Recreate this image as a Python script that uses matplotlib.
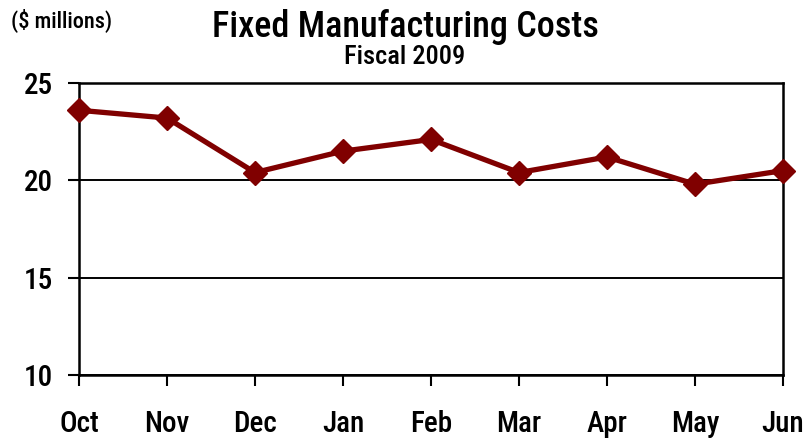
import matplotlib

matplotlib.use("Agg")
import matplotlib.pyplot as plt
from matplotlib import font_manager

months = ["Oct", "Nov", "Dec", "Jan", "Feb", "Mar", "Apr", "May", "Jun"]
costs = [23.6, 23.2, 20.4, 21.5, 22.1, 20.4, 21.2, 19.8, 20.5]
y_ticks = [10, 15, 20, 25]

# prefer a condensed face when one is available
names = {f.name for f in font_manager.fontManager.ttflist}
family = "Roboto"
for cand in ["Liberation Sans Narrow", "Roboto Condensed", "Open Sans Condensed"]:
    if cand in names:
        family = cand
        break
plt.rcParams["font.family"] = [family, "DejaVu Sans"]
weight = "medium"

fig = plt.figure(figsize=(8.1, 4.42), dpi=100)
ax = fig.add_axes([79 / 810, 1 - 375 / 442, (783 - 79) / 810, (375 - 83) / 442])

x = list(range(len(months)))
ax.plot(x, costs, color="#800000", linewidth=3.8, marker="D", markersize=12,
        clip_on=False, zorder=3)

ax.set_xlim(0, len(months) - 1)
ax.set_ylim(10, 25)
ax.set_xticks(x)
ax.set_xticklabels(months, fontsize=21, fontweight=weight)
ax.set_yticks(y_ticks)
ax.set_yticklabels([str(v) for v in y_ticks], fontsize=21, fontweight=weight)
ax.tick_params(axis="both", direction="out", length=8, width=1.5)
ax.tick_params(axis="x", pad=17)
ax.tick_params(axis="y", pad=11)
ax.grid(axis="y", color="black", linewidth=1.4)
for side in ax.spines.values():
    side.set_linewidth(1.8)

fig.text(0.5, 1 - 37 / 442, "Fixed Manufacturing Costs", ha="center", va="baseline",
         fontsize=26, fontweight=weight)
fig.text(0.5, 1 - 64 / 442, "Fiscal 2009", ha="center", va="baseline",
         fontsize=19, fontweight=weight)
fig.text(11 / 810, 1 - 28 / 442, "($ millions)", ha="left", va="baseline",
         fontsize=16, fontweight=weight)

fig.savefig("out.png", dpi=100)
